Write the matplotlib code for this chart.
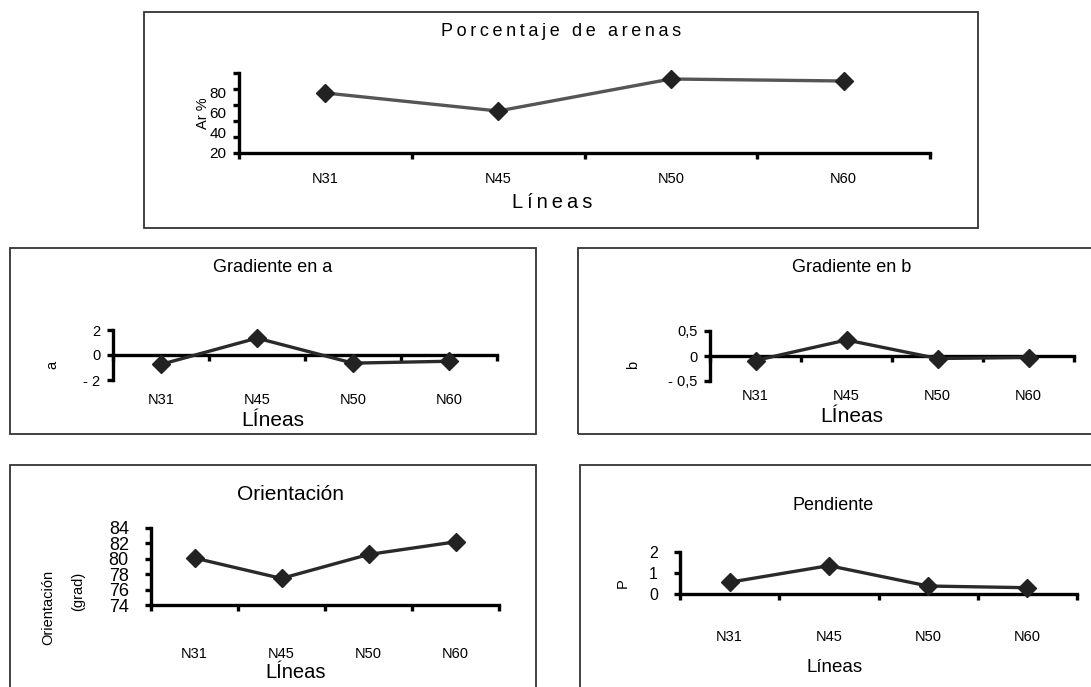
import matplotlib
matplotlib.use('Agg')
import matplotlib.pyplot as plt
import numpy as np
from matplotlib.patches import Rectangle

plt.rcParams['font.family'] = ['Liberation Sans Narrow', 'Liberation Sans', 'DejaVu Sans']

W, H = 1091, 687

# data
lineas = ['N31', 'N45', 'N50', 'N60']
arenas = [80, 62, 94, 92]
grad_a = [-0.75, 1.35, -0.65, -0.5]
grad_b = [-0.09, 0.32, -0.05, -0.03]
orientacion = [80.1, 77.45, 80.56, 82.2]
pendiente = [0.56, 1.35, 0.38, 0.30]

fig = plt.figure(figsize=(W / 100, H / 100), dpi=100)


def rect(x0, y0, x1, y1):
    return [x0 / W, 1 - y1 / H, (x1 - x0) / W, (y1 - y0) / H]


def box(x0, y0, x1, y1):
    fig.patches.append(Rectangle((x0 / W, 1 - y1 / H), (x1 - x0) / W, (y1 - y0) / H,
                                 transform=fig.transFigure, fill=False,
                                 ec='#333333', lw=1.3))


def ftext(x, y, s, **kw):
    fig.text(x / W, 1 - y / H, s, ha='center', va='center', **kw)


def panel(pos, vals, ylim, color, pad, zero=False):
    ax = fig.add_axes(rect(*pos))
    ax.patch.set_alpha(0)
    ax.plot(range(4), vals, color=color, lw=2.4, marker='D', ms=9,
            mfc='#222222', mec='#222222', zorder=3, clip_on=False)
    ax.set_xlim(-0.5, 3.5)
    ax.set_ylim(ylim)
    for s in ['top', 'right']:
        ax.spines[s].set_visible(False)
    for s in ['left', 'bottom']:
        ax.spines[s].set_linewidth(2.4)
    if zero:
        ax.spines['bottom'].set_position(('data', 0))
    ax.set_xticks(np.arange(-0.5, 4, 1))
    ax.set_xticks(range(4), minor=True)
    ax.set_xticklabels(lineas, minor=True)
    ax.tick_params(axis='x', which='major', direction='out', length=4, width=2.4,
                   labelbottom=False)
    ax.tick_params(axis='x', which='minor', length=0, pad=pad, labelsize=10.5)
    ax.tick_params(axis='y', which='both', direction='out', length=4, width=2.4,
                   labelsize=10.5, pad=5)
    return ax


# --- Porcentaje de arenas
box(144, 12, 978, 228)
ax1 = panel((239, 73, 930, 153), arenas, (20, 100), '#555555', 14)
ax1.yaxis.remove_overlapping_locs = False
ax1.set_yticks(np.linspace(20, 100, 6))
ax1.set_yticklabels([])
ax1.set_yticks([21, 41, 61, 81], minor=True)
ax1.set_yticklabels(['20', '40', '60', '80'], minor=True)
ax1.tick_params(axis='y', which='minor', length=0, pad=9, labelsize=11)
ftext(561, 32, '\u2009'.join('Porcentaje de arenas'), fontsize=13)
ftext(552, 203, '\u2009'.join('Líneas'), fontsize=14.5)
ftext(203, 113, 'Ar %', rotation=90, fontsize=10.5)

# --- Gradiente en a
box(10, 248, 536, 434)
ax2 = panel((113, 330, 497, 380), grad_a, (-2, 2), '#2a2a2a', 27, zero=True)
ax2.set_yticks([-2, 0, 2])
ax2.set_yticklabels(['- 2', '0', '2'])
ftext(273, 268, 'Gradiente en a', fontsize=13)
ftext(273, 420, 'LÍneas', fontsize=15)
ftext(52, 365, 'a', rotation=90, fontsize=10.5)

# --- Gradiente en b
box(578, 248, 1100, 434)
ax3 = panel((710, 331, 1074, 381), grad_b, (-0.5, 0.5), '#2a2a2a', 24, zero=True)
ax3.set_yticks([-0.5, 0, 0.5])
ax3.set_yticklabels(['- 0,5', '0', '0,5'])
ftext(852, 267, 'Gradiente en b', fontsize=13)
ftext(852, 417, 'LÍneas', fontsize=15)
ftext(633, 365, 'b', rotation=90, fontsize=10.5)

# --- Orientación
box(10, 465, 536, 700)
ax4 = panel((151, 528, 499, 605), orientacion, (74, 84), '#2a2a2a', 30)
ax4.set_yticks(np.arange(74, 85, 2))
ax4.tick_params(axis='y', labelsize=13, pad=12)
ftext(291, 495, 'Orientación', fontsize=15)
ftext(296, 673, 'LÍneas', fontsize=14.5)
ftext(48, 607, 'Orientación', rotation=90, fontsize=10.5)
ftext(78, 591, '(grad)', rotation=90, fontsize=10.5)

# --- Pendiente
box(580, 465, 1100, 700)
ax5 = panel((680, 552, 1077, 594), pendiente, (0, 2), '#2a2a2a', 26)
ax5.set_yticks([0, 1, 2])
ax5.tick_params(axis='y', labelsize=11.5, pad=12)
ftext(833, 505, 'Pendiente', fontsize=13)
ftext(835, 668, 'Líneas', fontsize=13.5)
ftext(623, 583, 'P', rotation=90, fontsize=10.5)

fig.savefig('out.png', dpi=100)
